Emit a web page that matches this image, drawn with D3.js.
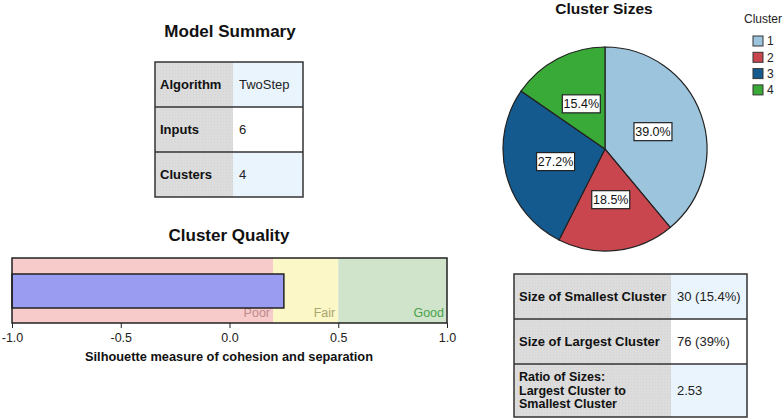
<!DOCTYPE html>
<html lang="en">
<head>
<meta charset="utf-8">
<title>TwoStep Model Summary</title>
<script src="https://d3js.org/d3.v7.min.js"></script>
<style>
  body { margin: 0; background: #fff; }
  svg { display: block; font-family: "Liberation Sans", Arial, sans-serif; }
  .title { font-size: 17px; font-weight: bold; fill: #111; text-anchor: middle; }
  .cellLabel { font-size: 13px; font-weight: bold; fill: #111; }
  .cellValue { font-size: 13px; fill: #222; }
  .tick text { font-size: 12.5px; fill: #222; }
</style>
</head>
<body>
<script>
// model summary table
var summaryLabels = ["Algorithm", "Inputs", "Clusters"];
var summaryValues = ["TwoStep", "6", "4"];

// cluster quality (silhouette)
var silhouette = 0.25;
var qualityBands = ["Poor", "Fair", "Good"];
var bandStarts = [-1, 0.2, 0.5];
var bandEnds = [0.2, 0.5, 1];
var qualityTicks = [-1, -0.5, 0, 0.5, 1];

// cluster sizes
var clusterNames = ["1", "2", "3", "4"];
var clusterPercents = [39.0, 18.5, 27.2, 15.4];

// size table
var sizeLabels = [["Size of Smallest Cluster"], ["Size of Largest Cluster"], ["Ratio of Sizes:", "Largest Cluster to", "Smallest Cluster"]];
var sizeValues = ["30 (15.4%)", "76 (39%)", "2.53"];

var W = 784, H = 420;
var svg = d3.select("body").append("svg").attr("width", W).attr("height", H);

// dotted texture like the original output
var defs = svg.append("defs");
function pattern(id, bg) {
  var p = defs.append("pattern").attr("id", id).attr("width", 3).attr("height", 3)
    .attr("patternUnits", "userSpaceOnUse");
  p.append("rect").attr("width", 3).attr("height", 3).attr("fill", bg);
  p.append("rect").attr("x", 1).attr("y", 1).attr("width", 1).attr("height", 1)
    .attr("fill", "#000").attr("opacity", 0.04);
  return "url(#" + id + ")";
}

function table(x0, x1, xSplit, rowEdges, labels, values, valueFills) {
  var g = svg.append("g");
  labels.forEach(function(lab, i) {
    var top = rowEdges[i], bot = rowEdges[i + 1];
    g.append("rect").attr("x", x0).attr("y", top).attr("width", xSplit - x0).attr("height", bot - top)
      .attr("fill", pattern("gray" + x0 + i, "#dcdcdc"));
    g.append("rect").attr("x", xSplit).attr("y", top).attr("width", x1 - xSplit).attr("height", bot - top)
      .attr("fill", valueFills[i]);
    var lines = Array.isArray(lab) ? lab : [lab];
    var mid = (top + bot) / 2;
    var lh = 13.5;
    lines.forEach(function(l, k) {
      g.append("text").attr("class", "cellLabel").attr("x", x0 + 5)
        .attr("y", mid + (k - (lines.length - 1) / 2) * lh).attr("dy", "0.35em")
        .style("font-size", lines.length > 1 ? "12.5px" : null)
        .text(l);
    });
    g.append("text").attr("class", "cellValue").attr("x", xSplit + 6).attr("y", mid).attr("dy", "0.35em")
      .text(values[i]);
    if (i > 0) {
      g.append("line").attr("x1", x0).attr("x2", x1).attr("y1", top).attr("y2", top)
        .attr("stroke", "#333").attr("stroke-width", 1.5);
    }
  });
  g.append("rect").attr("x", x0).attr("y", rowEdges[0]).attr("width", x1 - x0)
    .attr("height", rowEdges[rowEdges.length - 1] - rowEdges[0])
    .attr("fill", "none").attr("stroke", "#333").attr("stroke-width", 1.5);
}

// ---- Model Summary ----
svg.append("text").attr("class", "title").attr("x", 230).attr("y", 37).text("Model Summary");
table(155, 303, 233, [62, 107, 152, 197], summaryLabels, summaryValues,
  ["#eaf4fd", "#ffffff", "#eaf4fd"]);

// ---- Cluster Quality ----
svg.append("text").attr("class", "title").attr("x", 229).attr("y", 241).text("Cluster Quality");
var qx = d3.scaleLinear().domain([-1, 1]).range([12, 447]);
var qTop = 258, qBot = 323;
var bandFill = ["#f6cbca", "#fbf7c6", "#cfe4cb"];
var bandText = ["#c08a8a", "#a9a470", "#4aa24a"];
var qg = svg.append("g");
qg.selectAll("rect.band").data(qualityBands).enter().append("rect").attr("class", "band")
  .attr("x", function(d, i) { return qx(bandStarts[i]); })
  .attr("width", function(d, i) { return qx(bandEnds[i]) - qx(bandStarts[i]); })
  .attr("y", qTop).attr("height", qBot - qTop)
  .attr("fill", function(d, i) { return bandFill[i]; });
qg.selectAll("text.band").data(qualityBands).enter().append("text").attr("class", "band")
  .attr("x", function(d, i) { return qx(bandEnds[i]) - 3; })
  .attr("y", 317).attr("text-anchor", "end").attr("font-size", 12.5)
  .attr("fill", function(d, i) { return bandText[i]; })
  .text(function(d) { return d; });
qg.append("rect").attr("x", qx(-1)).attr("y", 274).attr("width", qx(silhouette) - qx(-1)).attr("height", 34)
  .attr("fill", "#9a9cf2").attr("stroke", "#222").attr("stroke-width", 1.5);
qg.append("rect").attr("x", qx(-1)).attr("y", qTop).attr("width", qx(1) - qx(-1)).attr("height", qBot - qTop)
  .attr("fill", "none").attr("stroke", "#222").attr("stroke-width", 1.5);
var qAxis = svg.append("g").attr("transform", "translate(0," + qBot + ")")
  .call(d3.axisBottom(qx).tickValues(qualityTicks)
    .tickFormat(function(d) { return d.toFixed(1); }).tickSize(5).tickSizeOuter(0));
qAxis.select(".domain").remove();
qAxis.selectAll(".tick line").attr("stroke", "#222");
qAxis.selectAll(".tick text").attr("dy", "0.85em");
svg.append("text").attr("x", 229).attr("y", 361).attr("text-anchor", "middle")
  .attr("font-size", 12.8).attr("font-weight", "bold").attr("fill", "#111")
  .text("Silhouette measure of cohesion and separation");

// ---- Cluster Sizes pie ----
svg.append("text").attr("class", "title").attr("x", 604).attr("y", 14).style("font-size", "15.5px").text("Cluster Sizes");
var pieColors = d3.scaleOrdinal().domain(clusterNames).range(["#9cc5dd", "#c9464f", "#145a8f", "#39aa37"]);
var cx = 605, cy = 149, R = 102;
var pie = d3.pie().sort(null).value(function(d) { return d; });
var arcs = pie(clusterPercents);
var arc = d3.arc().innerRadius(0).outerRadius(R);
var labelArc = d3.arc().innerRadius(R * 0.5).outerRadius(R * 0.5);
var pg = svg.append("g").attr("transform", "translate(" + cx + "," + cy + ")");
pg.selectAll("path").data(arcs).enter().append("path")
  .attr("d", arc)
  .attr("fill", function(d, i) { return pieColors(clusterNames[i]); })
  .attr("stroke", "#222").attr("stroke-width", 1.2);
var lab = pg.selectAll("g.lab").data(arcs).enter().append("g").attr("class", "lab")
  .attr("transform", function(d) { return "translate(" + labelArc.centroid(d) + ")"; });
lab.append("rect").attr("x", -19).attr("y", -9).attr("width", 38).attr("height", 18)
  .attr("fill", "#fff").attr("stroke", "#222").attr("stroke-width", 1.2);
lab.append("text").attr("text-anchor", "middle").attr("dy", "0.36em").attr("font-size", 12.5).attr("fill", "#111")
  .text(function(d) { return d.data.toFixed(1) + "%"; });

// legend
svg.append("text").attr("x", 763).attr("y", 23).attr("text-anchor", "middle").attr("font-size", 12)
  .attr("fill", "#222").text("Cluster");
var lg = svg.selectAll("g.legend").data(clusterNames).enter().append("g").attr("class", "legend")
  .attr("transform", function(d, i) { return "translate(753," + (36 + i * 16.3) + ")"; });
lg.append("rect").attr("width", 10).attr("height", 10)
  .attr("fill", function(d) { return pieColors(d); }).attr("stroke", "#333");
lg.append("text").attr("x", 14).attr("y", 5).attr("dy", "0.36em").attr("font-size", 12).attr("fill", "#222")
  .text(function(d) { return d; });

// ---- Cluster size table ----
table(514, 747, 671, [274, 319, 364, 417], sizeLabels, sizeValues,
  ["#eaf4fd", "#ffffff", "#eaf4fd"]);
</script>
</body>
</html>
